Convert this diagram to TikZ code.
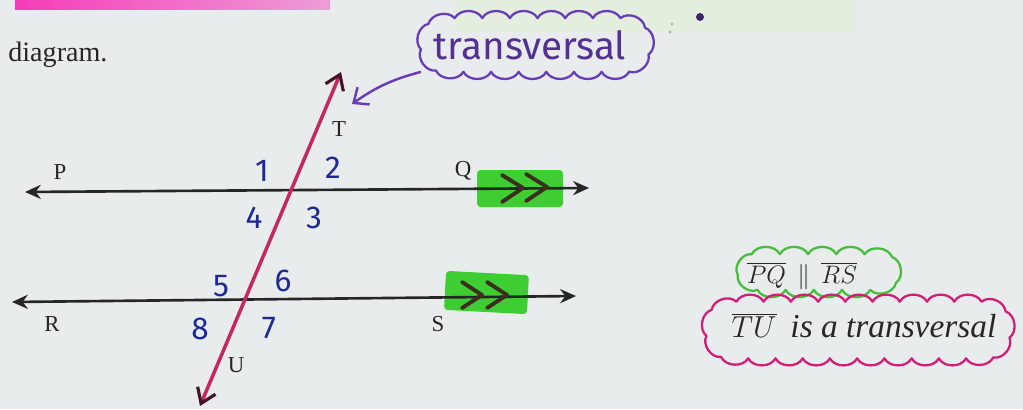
\documentclass[tikz,border=0pt]{standalone}
\usepackage{fontspec}
\setmainfont{Liberation Serif}
\newfontfamily\hand{Fira Sans}
\usetikzlibrary{arrows.meta,decorations.markings}

\definecolor{bg}{RGB}{232,236,236}
\definecolor{trans}{RGB}{196,40,92}
\definecolor{tipdark}{RGB}{70,20,40}
\definecolor{digit}{RGB}{30,40,150}
\definecolor{purp}{RGB}{105,60,185}
\definecolor{hl}{RGB}{62,205,50}
\definecolor{gcloud}{RGB}{70,190,60}
\definecolor{mcloud}{RGB}{210,30,120}
\definecolor{pinkbar}{RGB}{245,60,185}
\definecolor{palegreen}{RGB}{226,240,212}
\definecolor{chevc}{RGB}{60,45,30}

% cloud outline round a holder node: #1 style, #2 node, #3 prefix, #4 puffs, #5 corner radius
\newcommand{\drawcloud}[5][]{%
  \pgfmathsetmacro\cloudstep{1/#4}%
  \path[rounded corners=#5, decorate, decoration={markings,
      mark=between positions 0 and 0.999 step \cloudstep\space with
      {\coordinate (#3-\pgfkeysvalueof{/pgf/decoration/mark info/sequence number});}}]
    (#2.south west) rectangle (#2.north east);
  \draw[#1] (#3-1) \foreach \k in {2,...,#4} { to[bend left=62] (#3-\k) } to[bend left=62] (#3-1);%
}

\begin{document}
\begin{tikzpicture}[x=0.02cm,y=-0.02cm,
  pline/.style={line width=1.5pt, black!85,
    {Stealth[length=9pt,width=8pt]}-{Stealth[length=9pt,width=8pt]}},
  tline/.style={line width=2pt, trans,
    {Straight Barb[length=8pt,width=11pt,line width=1.8pt,color=tipdark]}-{Straight Barb[length=8pt,width=11pt,line width=1.8pt,color=tipdark]}},
  lab/.style={font=\fontsize{13}{13}\selectfont, text=black!85, inner sep=0pt},
  num/.style={font=\hand\fontsize{18}{18}\selectfont, text=digit, inner sep=0pt},
  chev/.style={line width=2.2pt, chevc, line cap=round, line join=round},
  hlbox/.style={fill=hl, rounded corners=2pt},
  holder/.style={inner sep=0pt},
  cloudline/.style={line width=1.3pt, line join=round, line cap=round}
]
% background and bounding box
\fill[bg] (0,0) rectangle (1023,409);
\useasboundingbox (0,0) rectangle (1023,409);
\shade[left color=pinkbar, right color=pinkbar!45!bg] (15,-4) rectangle (330,9);
\fill[palegreen, opacity=0.5] (455,0) rectangle (855,32);
\fill[purp!60!black] (700,17) circle (4);
\fill[gray!70] (672,24) circle (1.3) (670,32) circle (1.3);

% text
\node[anchor=base west, font=\fontsize{16}{16}\selectfont, text=black!85, inner sep=0pt] (diag) at (8,61) {diagram.};

% highlights
\fill[hlbox] (477,170) rectangle (563,207);
\fill[hlbox, rotate around={-3:(486,292)}] (445,273) rectangle (528,312);

% coordinates
\coordinate (Pl) at (25,192);
\coordinate (Qr) at (589,188);
\coordinate (Rl) at (12,302);
\coordinate (Sr) at (576,296);
\coordinate (Tt) at (341,72);
\coordinate (Ub) at (200,406);

% parallel lines
\draw[pline] (Pl) -- (Qr);
\draw[pline] (Rl) -- (Sr);
% transversal
\draw[tline] (Ub) -- (Tt);

% chevrons
\draw[chev] (502,175) -- (523,188) -- (502,202);
\draw[chev] (526,174) -- (547,187) -- (526,201);
\draw[chev] (462,282) -- (482,295) -- (462,308);
\draw[chev] (487,282) -- (507,295) -- (487,308);

% point labels
\node[lab] (P) at (60,172) {P};
\node[lab] (Q) at (463,171) {Q};
\node[lab] (R) at (52,324) {R};
\node[lab] (S) at (438,324) {S};
\node[lab] (T) at (339,129) {T};
\node[lab] (U) at (236,365) {U};

% angle numbers
\node[num] (n1) at (262,171) {1};
\node[num] (n2) at (333,168) {2};
\node[num] (n4) at (254,218) {4};
\node[num] (n3) at (314,218) {3};
\node[num] (n5) at (221,286) {5};
\node[num] (n6) at (283,281) {6};
\node[num] (n8) at (200,329) {8};
\node[num] (n7) at (269,328) {7};

% transversal cloud
\node[holder, minimum width=4.55cm, minimum height=1.06cm] (tc) at (535,45) {};
\drawcloud[cloudline, purp]{tc}{tcp}{19}{0.45cm}
\node[font=\hand\fontsize{22}{22}\selectfont, text=purp!80!black] (tct) at (530,45) {transversal};
\coordinate (tpoint) at (352,104);
\draw[purp, line width=1.4pt, -{Straight Barb[length=7pt,width=12pt,line width=1.4pt]}]
  (tc.south west) to[out=195,in=35] (tpoint);

% green cloud
\node[holder, minimum width=3.2cm, minimum height=0.7cm] (gc) at (818,272) {};
\drawcloud[cloudline, gcloud]{gc}{gcp}{13}{0.3cm}
\node[font=\fontsize{15}{15}\selectfont, text=black!85] (gct) at (802,276) {$\overline{PQ}\;\,\|\;\,\overline{RS}$};

% magenta cloud
\node[holder, minimum width=6.05cm, minimum height=1.12cm] (mc) at (858,330) {};
\drawcloud[cloudline, mcloud]{mc}{mcp}{25}{0.45cm}
\node[font=\itshape\fontsize{19}{19}\selectfont, text=black!85] (mct) at (864,326) {$\overline{TU}$ \,is a transversal};
\end{tikzpicture}
\end{document}
